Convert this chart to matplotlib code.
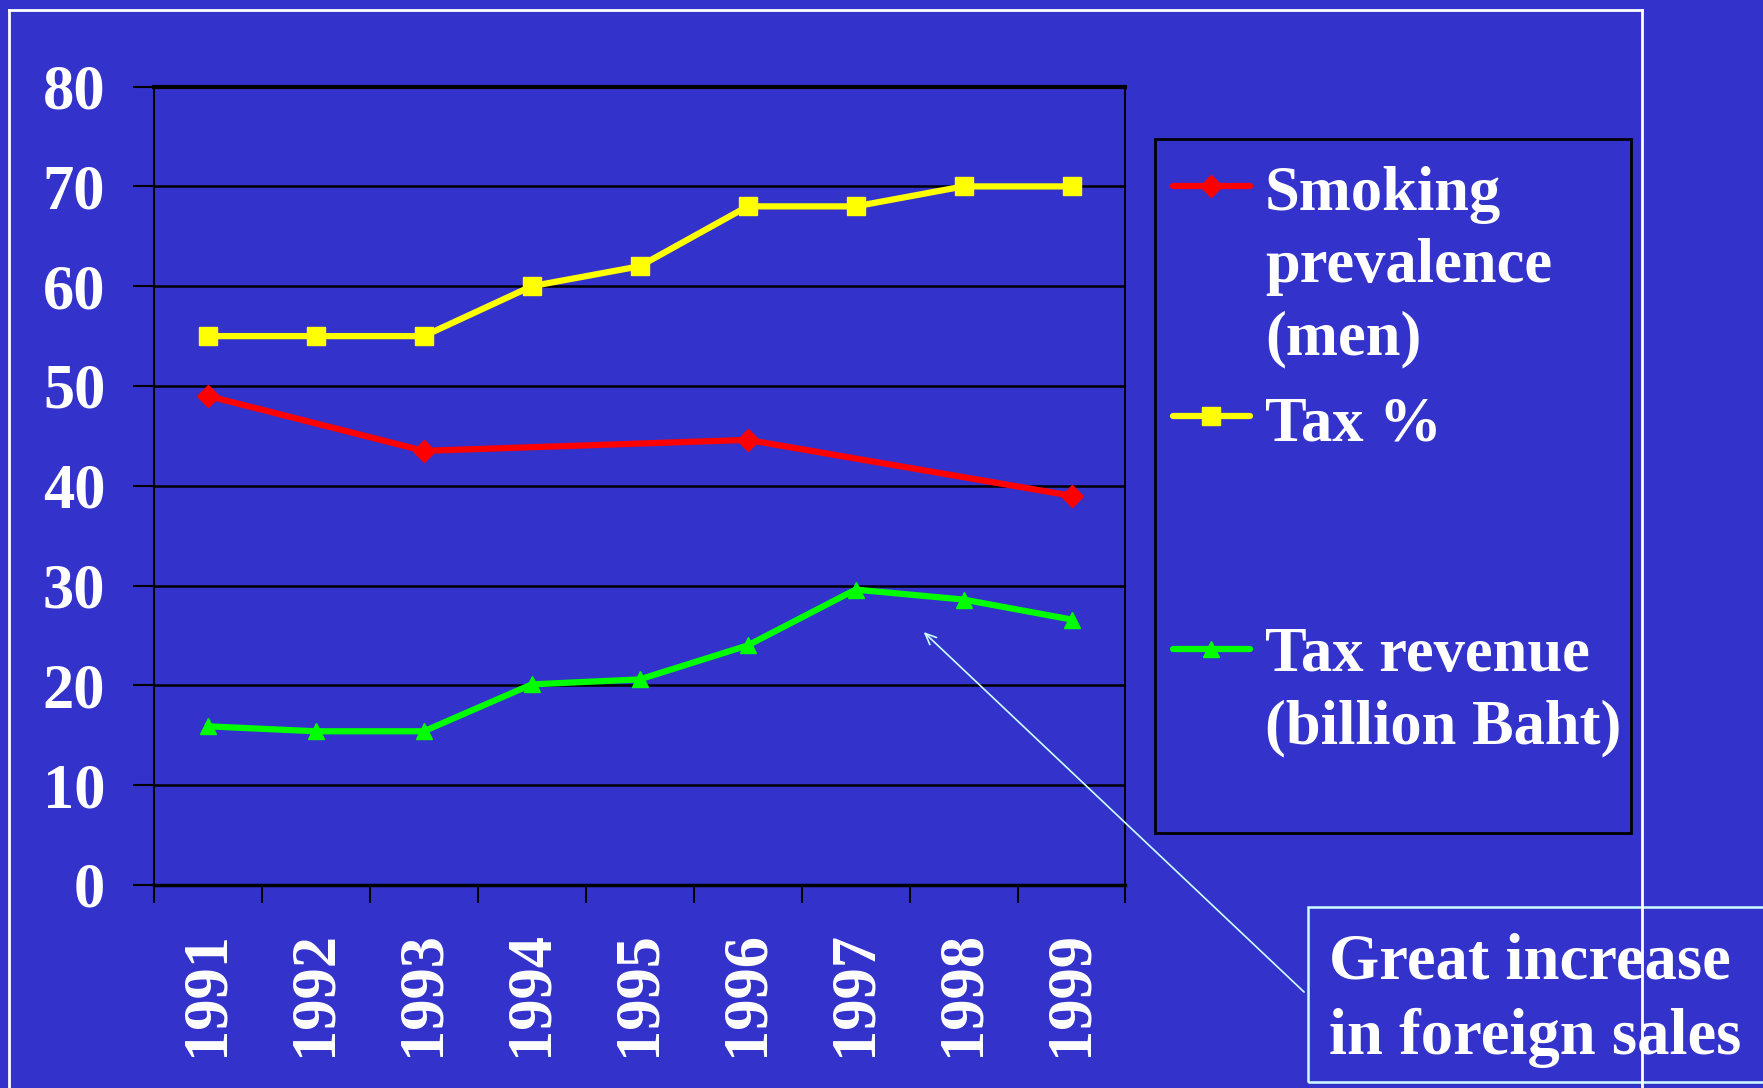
import numpy as np
import matplotlib.pyplot as plt
from matplotlib.lines import Line2D
from matplotlib.patches import Rectangle

years = ['1991', '1992', '1993', '1994', '1995', '1996', '1997', '1998', '1999']
smoking = [49, np.nan, 43.5, np.nan, np.nan, 44.6, np.nan, np.nan, 39]
tax_pct = [55, 55, 55, 60, 62, 68, 68, 70, 70]
tax_rev = [15.9, 15.4, 15.4, 20.1, 20.6, 24.0, 29.6, 28.6, 26.6]

bg = '#3333CC'
plt.rcParams['font.family'] = 'Liberation Serif'
plt.rcParams['font.weight'] = 'bold'
fs = 45

fig = plt.figure(figsize=(17.63, 10.88), dpi=100, facecolor=bg)
ax = fig.add_axes([0.0873, 0.1866, 0.5511, 0.7338], facecolor=bg)

x = np.arange(len(years)) + 0.5
sm = np.array(smoking)
ok = ~np.isnan(sm)
ax.plot(x[ok], sm[ok], color='#FF0000', lw=4.5, marker='D', ms=11, zorder=3)
ax.plot(x, tax_pct, color='#FFFF00', lw=4.5, marker='s', ms=13, zorder=3)
ax.plot(x, tax_rev, color='#00FF00', lw=4.5, marker='^', ms=12, zorder=3)

ax.set_xlim(0, 9)
ax.set_ylim(0, 80)
ax.set_yticks(range(0, 81, 10))
ax.yaxis.grid(True, color='black', lw=1.8)
ax.set_axisbelow(True)

# category boundaries as major ticks, labels at centres
ax.set_xticks(np.arange(0, 10))
ax.set_xticklabels([])
ax.set_xticks(x, minor=True)
ax.set_xticklabels(years, minor=True, rotation=90, va='top')
ax.tick_params(axis='x', which='major', length=13, width=1.5, color='black')
ax.tick_params(axis='x', which='minor', length=0, pad=33, labelsize=fs, labelcolor='white')
ax.tick_params(axis='y', length=15, width=1.5, color='black', pad=20, labelsize=fs, labelcolor='white')
for lab in ax.get_xticklabels(minor=True) + ax.get_yticklabels():
    lab.set_fontweight('bold')

for s in ['left', 'right', 'bottom']:
    ax.spines[s].set_color('black')
    ax.spines[s].set_linewidth(1.5)
ax.spines['top'].set_color('black')
ax.spines['top'].set_linewidth(3)
ax.spines['bottom'].set_linewidth(2.5)

# legend (drawn by hand to keep the slide layout)
fig.add_artist(Rectangle((0.6551, 0.2344), 0.27, 0.6378, transform=fig.transFigure,
                         facecolor='none', edgecolor='black', lw=2))
hx = [0.6653, 0.709]
mx = [0.687]
entries = [
    ('#FF0000', 'D', 11, 0.8295, ['Smoking', 'prevalence', '(men)'], 0.807),
    ('#FFFF00', 's', 13, 0.6176, ['Tax %'], 0.5947),
    ('#00FF00', '^', 12, 0.4035, ['Tax revenue', '(billion Baht)'], 0.3833),
]
for col, mk, ms, hy, lines, ty in entries:
    fig.add_artist(Line2D(hx, [hy, hy], color=col, lw=4.5, solid_capstyle='round',
                          transform=fig.transFigure))
    fig.add_artist(Line2D(mx, [hy], color=col, marker=mk, ms=ms, lw=0,
                          transform=fig.transFigure))
    for i, t in enumerate(lines):
        fig.text(0.7175, ty - i * 0.0665, t, color='white', fontsize=fs,
                 fontweight='bold', va='baseline', ha='left')

# outer slide frame
for xs, ys in [([0.0051, 0.9314], [0.9908, 0.9908]),
               ([0.0051, 0.0051], [0.9908, -0.01]),
               ([0.9314, 0.9314], [0.9908, -0.01])]:
    fig.add_artist(Line2D(xs, ys, color='white', lw=2, transform=fig.transFigure))

# callout box and arrow
fig.add_artist(Rectangle((0.7419, 0.0055), 0.4, 0.1608, transform=fig.transFigure,
                         facecolor='none', edgecolor='#CCFFFF', lw=1.8))
fig.text(0.7538, 0.1011, 'Great increase', color='white', fontsize=46.5,
         fontweight='bold', va='baseline')
fig.text(0.7538, 0.03125, 'in foreign sales', color='white', fontsize=46.5,
         fontweight='bold', va='baseline')
ax.annotate('', xy=(7.13, 25.35), xycoords='data',
            xytext=(0.7397, 0.0882), textcoords='figure fraction',
            arrowprops=dict(arrowstyle='->,head_length=0.8,head_width=0.35',
                            color='#CCFFFF', lw=1.2, shrinkA=0, shrinkB=0),
            annotation_clip=False)

fig.savefig('out.png', dpi=100, facecolor=bg)
